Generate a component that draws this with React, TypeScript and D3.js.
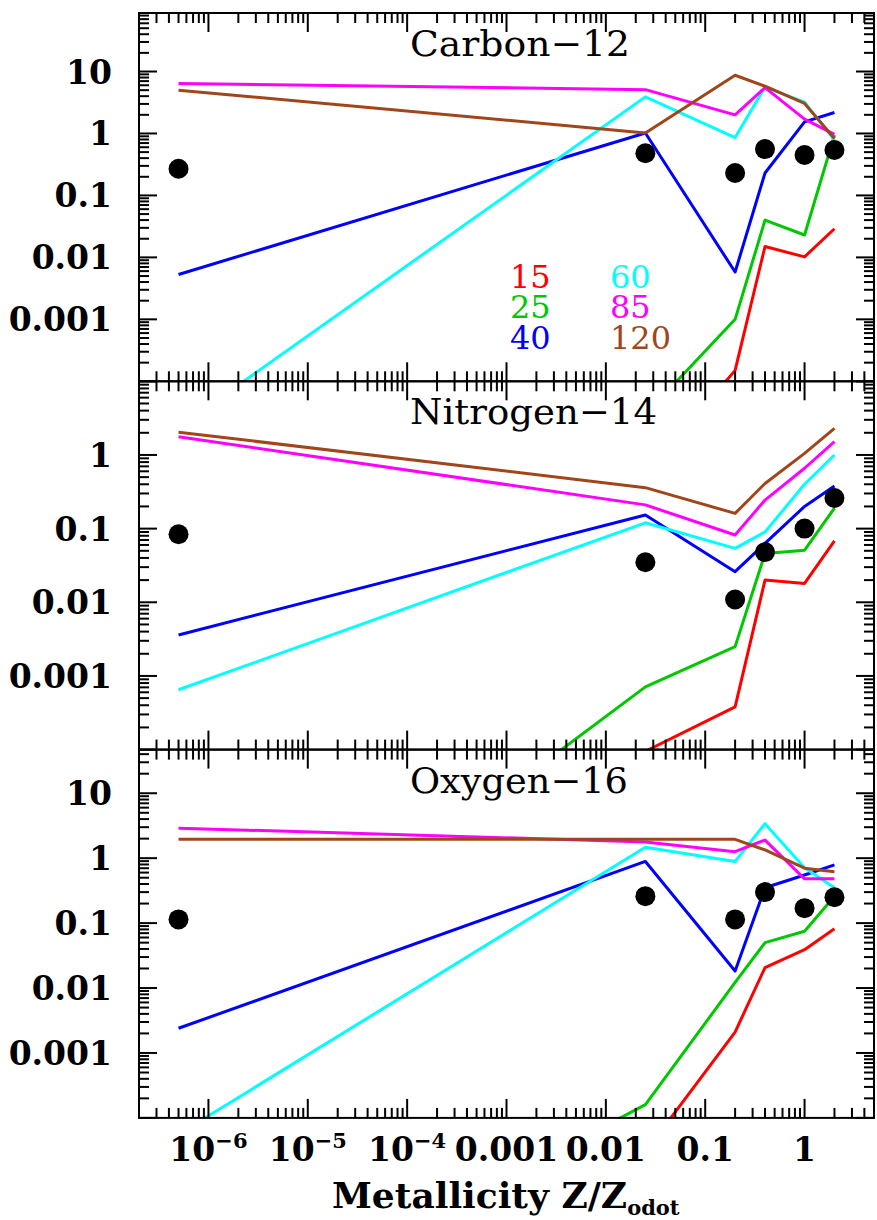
import React from "react";
import * as d3 from "d3";

// ---- data ----
const metallicity = [5e-7, 0.025, 0.2, 0.4, 1, 2];
const masses = ["15", "25", "40", "60", "85", "120"];
const massColors = ["#ff0000", "#00c800", "#0000ff", "#00ffff", "#ff00ff", "#a0461a"];

// Carbon-12 yields per mass (15,25,40,60,85,120)
const carbon15 = [null, 3e-6, 1.5e-4, 0.015, 0.0102, 0.029];
const carbon25 = [null, 2.9e-5, 0.001, 0.04, 0.023, 0.94];
const carbon40 = [0.0053, 1.02, 0.0058, 0.23, 1.54, 2.18];
const carbon60 = [1.8e-5, 3.9, 0.86, 5.6, 3.2, 0.78];
const carbon85 = [6.4, 5.1, 2.0, 5.5, 1.7, 0.97];
const carbon120 = [5.0, 1.02, 8.7, 5.8, 3.05, 0.83];
const carbonObs = [0.27, 0.48, 0.23, 0.56, 0.45, 0.54];

// Nitrogen-14
const nitrogen15 = [null, 9.5e-5, 3.8e-4, 0.02, 0.018, 0.068];
const nitrogen25 = [1.3e-8, 7.1e-4, 0.0025, 0.046, 0.051, 0.19];
const nitrogen40 = [0.0036, 0.153, 0.026, 0.063, 0.2, 0.38];
const nitrogen60 = [6.5e-4, 0.12, 0.054, 0.09, 0.4, 1.0];
const nitrogen85 = [1.77, 0.21, 0.082, 0.244, 0.66, 1.52];
const nitrogen120 = [2.04, 0.36, 0.161, 0.41, 1.05, 2.3];
const nitrogenObs = [0.084, 0.035, 0.0109, 0.048, 0.1, 0.26];

// Oxygen-16
const oxygen15 = [null, 3e-5, 0.0021, 0.0207, 0.039, 0.082];
const oxygen25 = [2.5e-8, 1.6e-4, 0.0122, 0.05, 0.075, 0.26];
const oxygen40 = [0.0024, 0.89, 0.0183, 0.35, 0.55, 0.79];
const oxygen60 = [5.6e-5, 1.47, 0.89, 3.4, 0.71, 0.35];
const oxygen85 = [2.9, 1.78, 1.26, 1.9, 0.48, 0.48];
const oxygen120 = [1.95, 1.95, 1.95, 1.34, 0.7, 0.62];
const oxygenObs = [0.114, 0.26, 0.114, 0.3, 0.17, 0.25];

const panelTitles = ["Carbon−12", "Nitrogen−14", "Oxygen−16"];
const panelYMax = [88, 10, 47];
const yMin = 1e-4;
const xDomain = [2e-7, 5];
const yTickLabels = [
  ["10", "1", "0.1", "0.01", "0.001"],
  ["1", "0.1", "0.01", "0.001"],
  ["10", "1", "0.1", "0.01", "0.001"],
];
const xTickLabels = [
  { v: 1e-6, base: "10", exp: "−6" },
  { v: 1e-5, base: "10", exp: "−5" },
  { v: 1e-4, base: "10", exp: "−4" },
  { v: 1e-3, base: "0.001", exp: "" },
  { v: 1e-2, base: "0.01", exp: "" },
  { v: 1e-1, base: "0.1", exp: "" },
  { v: 1, base: "1", exp: "" },
];

const panels = [
  { series: [carbon15, carbon25, carbon40, carbon60, carbon85, carbon120], obs: carbonObs },
  { series: [nitrogen15, nitrogen25, nitrogen40, nitrogen60, nitrogen85, nitrogen120], obs: nitrogenObs },
  { series: [oxygen15, oxygen25, oxygen40, oxygen60, oxygen85, oxygen120], obs: oxygenObs },
];

// ---- layout ----
const W = 877;
const H = 1220;
const left = 139;
const right = 874;
const top0 = 13;
const panelH = 368.3;
const FONT = "'DejaVu Serif', serif";
const titleLengths = [220, 247, 218];

const isMajor = (v: number) => Math.abs(Math.log10(v) - Math.round(Math.log10(v))) < 1e-6;

function Panel({ idx }: { idx: number }) {
  const top = top0 + idx * panelH;
  const bottom = top + panelH;
  const x = d3.scaleLog().domain(xDomain).range([left, right]);
  const y = d3.scaleLog().domain([yMin, panelYMax[idx]]).range([bottom, top]);
  const p = panels[idx];
  const clipId = `clip-${idx}`;
  const line = d3
    .line<any>()
    .defined((d) => d[1] != null)
    .x((d) => x(d[0]))
    .y((d) => y(d[1]));

  const xt = x.ticks();
  const yt = y.ticks();
  const majorY = yt.filter(isMajor).filter((v) => v > yMin * 1.01 && v < panelYMax[idx] * 0.99);

  return (
    <g>
      <defs>
        <clipPath id={clipId}>
          <rect x={left} y={top} width={right - left} height={panelH} />
        </clipPath>
      </defs>
      <g clipPath={`url(#${clipId})`}>
        {p.series.map((s, i) => (
          <path
            key={i}
            d={line(metallicity.map((m, j) => [m, s[j]])) || ""}
            fill="none"
            stroke={massColors[i]}
            strokeWidth={3}
            strokeLinejoin="round"
          />
        ))}
        {p.obs.map((v, j) => (
          <circle key={j} cx={x(metallicity[j])} cy={y(v)} r={10} fill="#000" />
        ))}
      </g>
      {/* frame */}
      <rect x={left} y={top} width={right - left} height={panelH} fill="none" stroke="#000" strokeWidth={2} />
      {/* x ticks */}
      {xt.map((t, i) => {
        const len = isMajor(t) ? 19 : 10;
        const xx = x(t);
        return (
          <g key={"xt" + i} stroke="#000" strokeWidth={2}>
            <line x1={xx} x2={xx} y1={top} y2={top + len} />
            <line x1={xx} x2={xx} y1={bottom} y2={bottom - len} />
          </g>
        );
      })}
      {/* y ticks */}
      {yt.map((t, i) => {
        const len = isMajor(t) ? 18 : 10;
        const yy = y(t);
        return (
          <g key={"yt" + i} stroke="#000" strokeWidth={2}>
            <line x1={left} x2={left + len} y1={yy} y2={yy} />
            <line x1={right} x2={right - len} y1={yy} y2={yy} />
          </g>
        );
      })}
      {/* y labels */}
      {majorY
        .slice()
        .reverse()
        .map((t, i) => (
          <text
            key={"yl" + i}
            x={112}
            y={y(t) + 12}
            textAnchor="end"
            fontFamily={FONT}
            fontWeight="bold"
            fontSize={33}
            fill="#000"
          >
            {yTickLabels[idx][i]}
          </text>
        ))}
      {/* title */}
      <text
        x={410}
        y={top + 43}
        fontFamily={FONT}
        fontSize={36}
        textLength={titleLengths[idx]}
        lengthAdjust="spacingAndGlyphs"
        fill="#000"
      >
        {panelTitles[idx]}
      </text>
    </g>
  );
}

export default function App() {
  const x = d3.scaleLog().domain(xDomain).range([left, right]);
  const bottomAxis = top0 + 3 * panelH;
  return (
    <svg
      width={W}
      height={H}
      viewBox={`0 0 ${W} ${H}`}
      style={{ position: "absolute", left: 0, top: 0, background: "#fff" }}
    >
      <rect x={0} y={0} width={W} height={H} fill="#fff" />
      {[0, 1, 2].map((i) => (
        <Panel key={i} idx={i} />
      ))}
      {/* legend */}
      {masses.map((m, i) => (
        <text
          key={m}
          x={i < 3 ? 510 : 610}
          y={[288, 318, 349][i % 3]}
          fontFamily={FONT}
          fontSize={32}
          fill={massColors[i]}
        >
          {m}
        </text>
      ))}
      {/* x tick labels */}
      {xTickLabels.map((t, i) => (
        <text
          key={i}
          x={x(t.v)}
          y={bottomAxis + 43}
          textAnchor="middle"
          fontFamily={FONT}
          fontWeight="bold"
          fontSize={33}
          fill="#000"
        >
          {t.base}
          {t.exp ? (
            <tspan fontSize={21} dy={-13}>
              {t.exp}
            </tspan>
          ) : null}
        </text>
      ))}
      {/* x axis label */}
      <text x={332} y={1208} fontFamily={FONT} fontWeight="bold" fontSize={36} fill="#000">
        Metallicity Z/Z
        <tspan fontSize={21} dy={7}>
          odot
        </tspan>
      </text>
    </svg>
  );
}
